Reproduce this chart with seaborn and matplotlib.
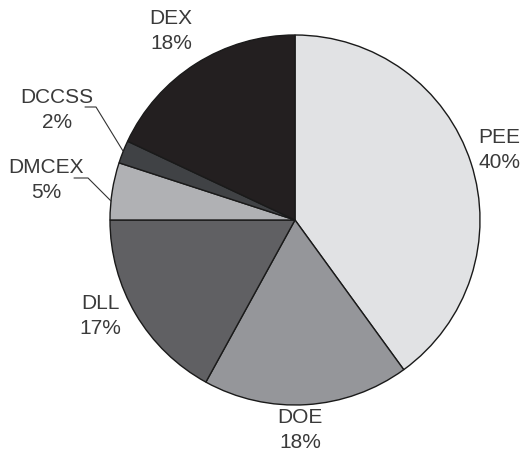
import matplotlib
matplotlib.use("Agg")
import matplotlib.pyplot as plt
import seaborn as sns

categories = ["PEE", "DOE", "DLL", "DMCEX", "DCCSS", "DEX"]
shares = [40, 18, 17, 5, 2, 18]
colors = ["#e1e2e4", "#95969a", "#606063", "#b0b1b4", "#404245", "#231f20"]

sns.set_theme(style="white")
plt.rcParams["font.family"] = ["Liberation Sans", "DejaVu Sans"]

W, H = 523, 453
cx, cy, R = 295, 220, 185
fig = plt.figure(figsize=(W / 100, H / 100), dpi=100)
ax = fig.add_axes([0, 0, 1, 1])
ax.pie(shares, colors=colors, startangle=90, counterclock=False, radius=1,
       wedgeprops=dict(edgecolor="#1a1a1a", linewidth=1.0))
ax.set_xlim(-cx / R, (W - cx) / R)
ax.set_ylim(-(H - cy) / R, cy / R)
ax.set_aspect("equal")
ax.axis("off")

def d(px, py):
    return (px - cx) / R, (cy - py) / R

label_px = {"PEE": (499, 150), "DOE": (300, 430), "DLL": (100, 316),
            "DMCEX": (46, 180), "DCCSS": (57, 110), "DEX": (171, 31)}
for cat, val in zip(categories, shares):
    x, y = d(*label_px[cat])
    ax.text(x, y, f"{cat}\n{val}%", ha="center", va="center", fontsize=15,
            color="#3a3a3a", linespacing=1.38)

leaders = {"DCCSS": [(85, 107), (96, 107), (123, 151)],
           "DMCEX": [(74, 178), (88, 178), (111, 201)]}
for cat, pts in leaders.items():
    xs, ys = zip(*[d(*p) for p in pts])
    ax.plot(xs, ys, color="#333333", linewidth=0.8)

fig.savefig("out.png", dpi=100)
